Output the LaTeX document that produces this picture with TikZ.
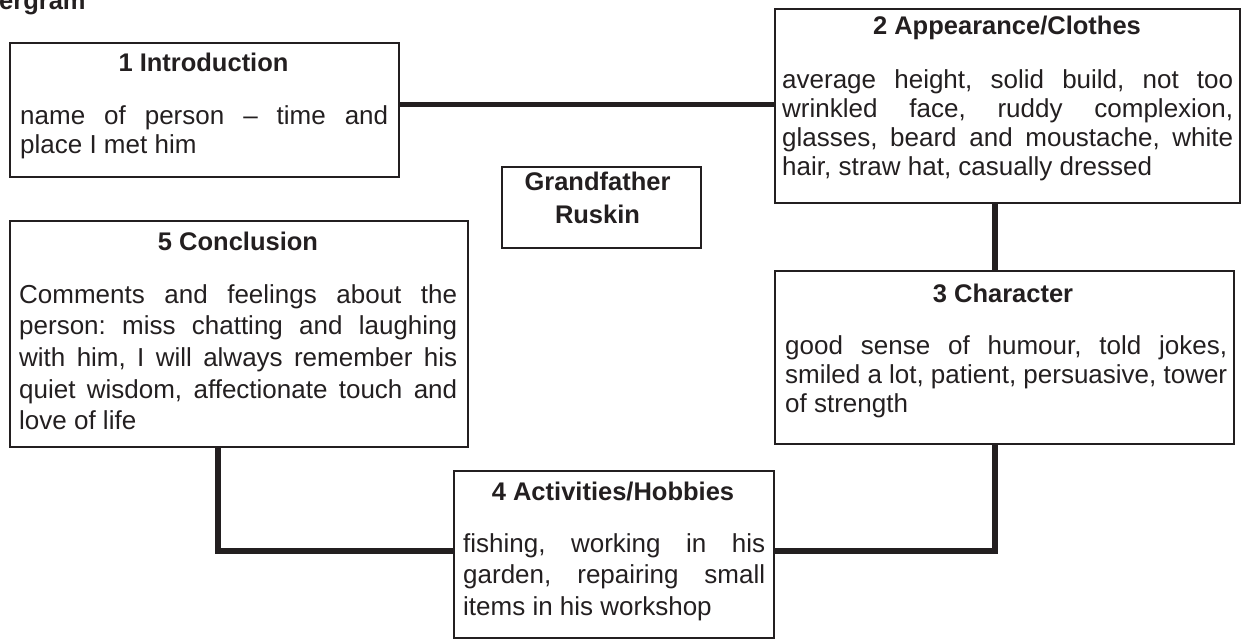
\documentclass[tikz,border=0pt]{standalone}
\usepackage{fontspec}
\setmainfont{Liberation Sans}
\definecolor{ink}{RGB}{35,31,32}
\frenchspacing
\tolerance=10000
\hbadness=10000
\begin{document}
\begin{tikzpicture}[x=1pt,y=-1pt,
  frame/.style={draw=ink, line width=2.4pt, inner sep=0pt, anchor=north west},
  link/.style={draw=ink, line width=5.2pt, line join=miter},
  head/.style={text=ink, inner sep=0pt, anchor=base,
    font=\fontsize{25.5}{30}\selectfont\bfseries},
  body/.style={text=ink, inner sep=0pt, anchor=base west, align=justify,
    font=\fontsize{26}{29}\selectfont},
  loose/.style={font=\fontsize{26}{31.7}\selectfont}]
\useasboundingbox (0,0) rectangle (1241,639);

% heading of the page, running off its top edge
\node[text=ink, inner sep=0pt, anchor=base west,
  font=\fontsize{25.5}{30}\selectfont\bfseries] (pagehead) at (-1,10) {ergram};

% 1 Introduction
\node[frame, minimum width=389pt, minimum height=134pt] (intro) at (9,42) {};
\node[head] (introhead) at (203.5,72) {1 Introduction};
\node[body, text width=368pt] (introbody) at (20,125)
  {name of person – time and\linebreak place I met him};

% 2 Appearance/Clothes
\node[frame, minimum width=465pt, minimum height=194pt] (appear) at (774,8) {};
\node[head] (appearhead) at (1007,35) {2 Appearance/Clothes};
\node[body, text width=451pt] (appearbody) at (782,89)
  {average height, solid build, not too\linebreak
   wrinkled face, ruddy complexion,\linebreak
   glasses, beard and moustache, white\linebreak
   hair, straw hat, casually dressed};

% 3 Character
\node[frame, minimum width=459pt, minimum height=173pt] (charac) at (774,270) {};
\node[head] (charachead) at (1003,302) {3 Character};
\node[body, text width=442pt] (characbody) at (785,354)
  {good sense of humour, told jokes,\linebreak
   smiled a lot, patient, persuasive, tower\linebreak
   of strength};

% 5 Conclusion
\node[frame, minimum width=458pt, minimum height=226pt] (concl) at (9,220) {};
\node[head] (conclhead) at (238,250) {5 Conclusion};
\node[body, loose, text width=438pt] (conclbody) at (19,303)
  {Comments and feelings about the\linebreak
   person: miss chatting and laughing\linebreak
   with him, I will always remember his\linebreak
   quiet wisdom, affectionate touch and\linebreak
   love of life};

% 4 Activities/Hobbies
\node[frame, minimum width=320pt, minimum height=167pt] (act) at (453,470) {};
\node[head] (acthead) at (613,500) {4 Activities/Hobbies};
\node[body, loose, text width=302pt] (actbody) at (463,552)
  {fishing, working in his\linebreak
   garden, repairing small\linebreak
   items in his workshop};

% central subject
\node[frame, minimum width=199pt, minimum height=81pt] (subject) at (501,166) {};
\node[head] (subjecta) at (597.5,190) {Grandfather};
\node[head] (subjectb) at (597.5,223) {Ruskin};

% connectors
\coordinate (spine) at (995,0);
\coordinate (drop) at (218,0);
\coordinate (rail) at (0,551);
\draw[link] ([yshift=2pt]appear.west) -- ([yshift=2pt]appear.west -| intro.east);
\draw[link] (appear.south -| spine) -- (charac.north -| spine);
\draw[link] (charac.south -| spine) |- (act.east |- rail);
\draw[link] (concl.south -| drop) |- (act.west |- rail);
\end{tikzpicture}
\end{document}
